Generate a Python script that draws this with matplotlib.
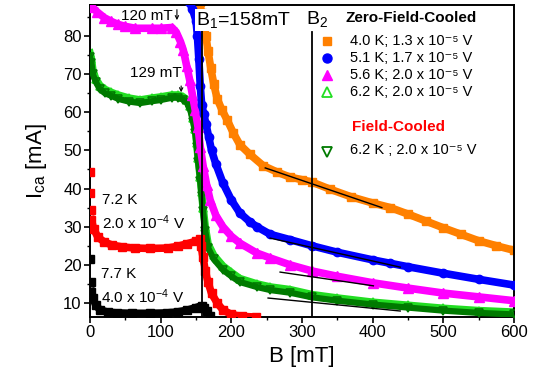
import matplotlib
matplotlib.use("Agg")
import matplotlib.pyplot as plt
from matplotlib.ticker import MultipleLocator

plt.rcParams['font.family'] = ['Liberation Sans', 'DejaVu Sans']
plt.rcParams['mathtext.fontset'] = 'custom'
plt.rcParams['mathtext.rm'] = 'Liberation Sans'
plt.rcParams['mathtext.it'] = 'Liberation Sans:italic'
plt.rcParams['mathtext.bf'] = 'Liberation Sans:bold'
plt.rcParams['mathtext.default'] = 'regular'

# ---------------- data ----------------
# ZFC 4.0 K (orange squares)
orange_B = [155, 158, 161, 164, 167, 171, 175, 180, 187, 194, 203, 212, 226, 245, 265, 283,
            300, 314, 340, 370, 400, 425, 450, 475, 500, 525, 550, 575, 600]
orange_I = [89, 86, 83, 80, 76, 71.5, 67.5, 63.5, 60.5, 58, 54.5, 51.5, 49, 46, 44.3, 43,
            42.3, 41.7, 39.8, 37.8, 36.2, 35, 33.3, 31.5, 29.7, 28, 26.3, 25, 23.8]

# ZFC 5.1 K (blue circles)
blue_B = [140, 145, 150, 152, 154, 156, 158, 161, 164, 168, 172, 178, 188, 200, 212, 226, 236,
          255, 283, 314, 350, 400, 425, 450, 500, 550, 600]
blue_I = [89, 87, 84, 80, 74, 67, 62, 59.5, 57, 53.5, 50, 46.5, 41.5, 37, 33.6, 31.3, 30,
          28, 26.6, 25, 23.3, 21.3, 20.4, 19.5, 17.8, 16.2, 14.7]

# ZFC 5.6 K (magenta triangles)
mag_B = [0, 3, 10, 20, 30, 40, 50, 64, 88, 100, 116, 122, 128, 132, 137, 141, 145, 149, 153,
         156, 160, 165, 170, 178, 188, 200, 212, 236, 255, 283, 314, 350, 400, 450, 500, 550, 600]
mag_I = [88.5, 87.6, 86.3, 84.8, 83.8, 83, 82.5, 82, 82, 82, 82.2, 81, 78.5, 76.3, 72, 68.5,
         64.5, 60.5, 56, 51, 46, 41, 37, 33, 30, 27.5, 25.7, 23.1, 21.8, 20, 18.4, 17, 15.3,
         13.9, 12.6, 11.6, 10.6]

# ZFC 6.2 K (open up-triangles, light green)
zgr_B = [0, 2, 4, 8, 14, 21, 30, 40, 55, 71, 88, 100, 116, 125, 132, 137, 142, 146, 149, 151,
         153, 156, 158, 160, 163, 167, 175, 188, 200, 212, 236, 255, 283, 314, 350, 400, 450,
         500, 550, 600]
zgr_I = [75.5, 74, 71, 68.8, 67, 66, 65.2, 64.5, 63.7, 63.2, 63.7, 64, 64.5, 64.5, 64, 63.2,
         61.5, 58.5, 55.5, 52, 48, 43, 39, 35, 30, 25.5, 22.5, 19.7, 18, 16.4, 15, 14.2, 13.5,
         12.2, 11.3, 10.2, 9.4, 8.6, 8.0, 7.6]

# FC 6.2 K (open down-triangles, dark green)
fgr_B = [0, 2, 4, 8, 14, 21, 30, 40, 55, 71, 88, 100, 116, 125, 132, 137, 142, 146, 149, 151,
         153, 156, 158, 160, 163, 167, 175, 188, 200, 212, 236, 255, 283, 314, 350, 400, 450,
         500, 550, 600]
fgr_I = [74.5, 73, 70, 68, 66, 65, 64.3, 63.5, 62.8, 62.4, 62.9, 63.2, 63.8, 63.8, 63.3, 62.5,
         60.5, 57.5, 54.6, 51, 47, 42, 38, 34, 29, 24.5, 21.5, 18.7, 17, 15.5, 14.2, 13.4, 12.7,
         11.5, 10.6, 9.6, 8.8, 8.0, 7.4, 7.0]

# FC 7.2 K (red squares)
red_B = [0, 0, 1, 2, 5, 11, 20, 31, 45, 64, 85, 110, 125, 137, 150, 156, 157, 160, 163, 167,
         172, 180, 188, 200, 215, 235]
red_I = [44.3, 38.8, 34.4, 31.8, 29.5, 27.3, 26, 25.2, 24.7, 24.4, 24.3, 24.4, 24.9, 25.5,
         26.2, 26.8, 25, 22, 18.5, 15.5, 12.5, 10, 8.2, 7, 6.5, 6.3]

# FC 7.7 K (black squares)
blk_B = [0, 1, 2, 4, 8, 14, 25, 38, 60, 85, 109, 125, 137, 150, 158, 162, 166, 170]
blk_I = [21.5, 15.5, 13, 11.3, 9.5, 8.2, 7.6, 7.4, 7.3, 7.3, 7.4, 7.7, 8.1, 8.8, 9.3, 8.8, 7.8, 6.6]

# straight-line fits in the high-field region (start/end)
fit_orange_B = [248, 413]
fit_orange_I = [45.4, 35.0]
fit_blue_B = [255, 439]
fit_blue_I = [27.0, 19.4]
fit_mag_B = [269, 401]
fit_mag_I = [18.1, 14.5]
fit_grn_B = [252, 439]
fit_grn_I = [11.3, 7.9]

B1 = 158
B2 = 314

legend_zfc = ['4.0 K; 1.3 x 10\u207b\u2075 V', '5.1 K; 1.7 x 10\u207b\u2075 V',
              '5.6 K; 2.0 x 10\u207b\u2075 V', '6.2 K; 2.0 x 10\u207b\u2075 V']
legend_fc = '6.2 K ; 2.0 x 10\u207b\u2075 V'

# ---------------- figure ----------------
W, H = 543, 379
fig = plt.figure(figsize=(W / 100, H / 100), dpi=100)
ax = fig.add_axes([90 / W, 1 - 317 / H, 424 / W, 312 / H])
ax.set_xlim(0, 600)
ax.set_ylim(6.33, 88.1)

ORANGE = '#FF8000'
BLUE = '#0000FF'
MAG = '#FF00FF'
LGREEN = '#22DD22'
DGREEN = '#007A00'
RED = '#FF0000'

lw = 5.5
# bands
ax.plot(orange_B, orange_I, '-', color=ORANGE, lw=lw, solid_capstyle='butt', zorder=2)
ax.plot(orange_B, orange_I, 's', color=ORANGE, ms=5.5, zorder=2)

ax.plot(zgr_B, zgr_I, '-', color=LGREEN, lw=lw, zorder=2)
ax.plot(zgr_B, zgr_I, '^', mfc='none', mec=LGREEN, ms=6, mew=1.2, zorder=2)
ax.plot(fgr_B, fgr_I, '-', color=DGREEN, lw=lw - 1, zorder=3)
ax.plot(fgr_B, fgr_I, 'v', mfc='none', mec=DGREEN, ms=6, mew=1.2, zorder=3)

ax.plot(mag_B, mag_I, '-', color=MAG, lw=lw, zorder=4)
ax.plot(mag_B, mag_I, '^', color=MAG, ms=6.5, zorder=4)

ax.plot(blue_B, blue_I, '-', color=BLUE, lw=lw, zorder=5)
ax.plot(blue_B, blue_I, 'o', color=BLUE, ms=6, zorder=5)

ax.plot(red_B[3:], red_I[3:], '-', color=RED, lw=lw, zorder=4)
ax.plot(red_B, red_I, 's', color=RED, ms=5.5, zorder=4)

ax.plot(blk_B[2:], blk_I[2:], '-', color='black', lw=lw, zorder=4)
ax.plot(blk_B, blk_I, 's', color='black', ms=5.5, zorder=4)

# fits
for fb, fi in [(fit_orange_B, fit_orange_I), (fit_blue_B, fit_blue_I),
               (fit_mag_B, fit_mag_I), (fit_grn_B, fit_grn_I)]:
    ax.plot(fb, fi, '-', color='black', lw=1.0, zorder=6)

# vertical lines
ax.plot([B1, B1], [6.33, 83], '-', color='black', lw=1.3, zorder=6)
ax.plot([B2, B2], [6.33, 81], '-', color='black', lw=1.3, zorder=6)

# annotations
ax.text(150, 84.2, 'B$_1$=158mT', fontsize=14, ha='left', va='center', zorder=7,
        bbox=dict(facecolor='white', edgecolor='none', pad=0.5))
ax.text(305, 84.5, 'B$_2$', fontsize=14, ha='left', va='center', zorder=7)

ax.text(117, 85.1, '120 mT', fontsize=11, ha='right', va='center', zorder=7)
ax.annotate('', xy=(123, 83.4), xytext=(123, 87.6),
            arrowprops=dict(arrowstyle='->', lw=0.8, color='black', mutation_scale=6), zorder=7)
ax.text(130, 70.4, '129 mT', fontsize=11, ha='right', va='center', zorder=7)
ax.annotate('', xy=(129, 64.5), xytext=(129, 67.6),
            arrowprops=dict(arrowstyle='->', lw=0.8, color='black', mutation_scale=6), zorder=7)

ax.text(17, 36.9, '7.2 K', fontsize=11, ha='left', va='center')
ax.text(17, 31.0, '2.0 x 10$^{-4}$ V', fontsize=11, ha='left', va='center')
ax.text(15, 17.5, '7.7 K', fontsize=11, ha='left', va='center')
ax.text(15, 11.6, '4.0 x 10$^{-4}$ V', fontsize=11, ha='left', va='center')

# manual legend (axes fraction)
def fx(px):
    return (px - 90) / 424

def fy(py):
    return (317 - py) / 312

ax.text(fx(345), fy(18), 'Zero-Field-Cooled', transform=ax.transAxes, fontsize=11,
        fontweight='bold', ha='left', va='center', zorder=7)
leg_styles = [dict(marker='s', color=ORANGE, ms=6, ls='none'),
              dict(marker='o', color=BLUE, ms=6.5, ls='none'),
              dict(marker='^', color=MAG, ms=7, ls='none'),
              dict(marker='^', mfc='none', mec=LGREEN, ms=7, mew=1.3, ls='none')]
rows = [41, 58, 75, 92]
for st, py, lab in zip(leg_styles, rows, legend_zfc):
    ax.plot([fx(327)], [fy(py)], transform=ax.transAxes, zorder=7, clip_on=False, **st)
    ax.text(fx(350), fy(py), lab, transform=ax.transAxes, fontsize=10.5,
            ha='left', va='center', zorder=7)
ax.text(fx(352), fy(127), 'Field-Cooled', transform=ax.transAxes, fontsize=11,
        fontweight='bold', color=RED, ha='left', va='center', zorder=7)
ax.plot([fx(327)], [fy(152)], transform=ax.transAxes, marker='v', mfc='none', mec=DGREEN,
        ms=7, mew=1.3, ls='none', zorder=7)
ax.text(fx(350), fy(150), legend_fc, transform=ax.transAxes, fontsize=10.5,
        ha='left', va='center', zorder=7)

# axes styling
ax.xaxis.set_major_locator(MultipleLocator(100))
ax.xaxis.set_minor_locator(MultipleLocator(50))
ax.yaxis.set_major_locator(MultipleLocator(10))
ax.yaxis.set_minor_locator(MultipleLocator(5))
ax.tick_params(axis='both', which='major', direction='out', length=4, width=1.2,
               labelsize=12, pad=2)
ax.tick_params(axis='both', which='minor', direction='out', length=2.5, width=1.0)
ax.set_yticks([10, 20, 30, 40, 50, 60, 70, 80])
for s in ax.spines.values():
    s.set_linewidth(1.4)

ax.set_xlabel('B [mT]', fontsize=16, labelpad=4)
ax.set_ylabel('I$_{ca}$ [mA]', fontsize=16, labelpad=10)

fig.savefig('out.png', dpi=100)
